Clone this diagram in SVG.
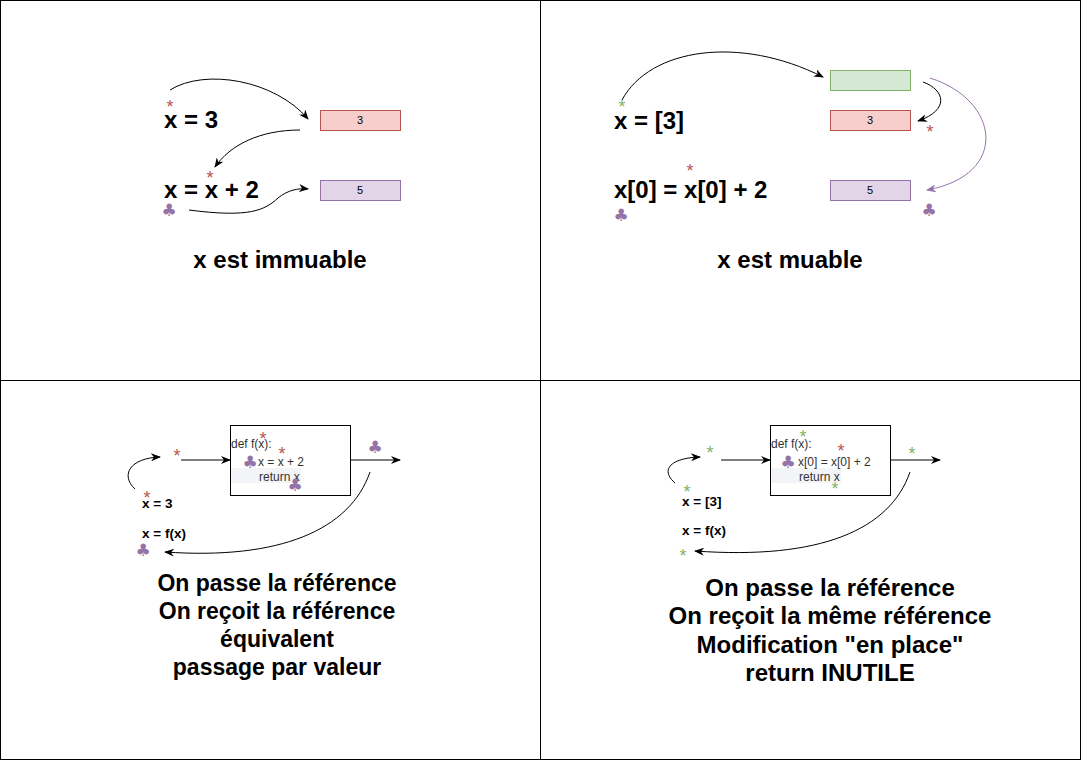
<svg xmlns="http://www.w3.org/2000/svg" width="1082" height="762" viewBox="0 0 1082 762">
<defs>
<marker id="ah" viewBox="0 0 10 8" refX="9" refY="4" markerWidth="10" markerHeight="8" markerUnits="userSpaceOnUse" orient="auto"><path d="M0,0 L10,4 L0,8 L3,4 Z" fill="#000"/></marker>
<marker id="ahp" viewBox="0 0 10 8" refX="9" refY="4" markerWidth="10" markerHeight="8" markerUnits="userSpaceOnUse" orient="auto"><path d="M0,0 L10,4 L0,8 L3,4 Z" fill="#9673a6"/></marker>
<style>
.big{font-family:"Liberation Sans",Arial,sans-serif;font-weight:bold;font-size:24px;fill:#000}
.cap{font-family:"Liberation Sans",Arial,sans-serif;font-weight:bold;font-size:23px;fill:#000;text-anchor:middle}
.cap2{font-family:"Liberation Sans",Arial,sans-serif;font-weight:bold;font-size:24px;fill:#000;text-anchor:middle}
.sm{font-family:"Liberation Sans",Arial,sans-serif;font-weight:bold;font-size:13.5px;fill:#000}
.code{font-family:"Liberation Sans",Arial,sans-serif;font-size:12px;fill:#333}
.val{font-family:"Liberation Sans",Arial,sans-serif;font-size:11px;fill:#000;text-anchor:middle}
.ast{font-family:"Liberation Sans",Arial,sans-serif;font-size:18px;text-anchor:middle}
.r{fill:#b85450}
.g{fill:#82b366}
.club{font-family:"DejaVu Sans",sans-serif;font-size:17px;fill:#9673a6;text-anchor:middle}
.red{fill:#f8cecc;stroke:#b85450}
.pur{fill:#e1d5e7;stroke:#9673a6}
.grn{fill:#d5e8d4;stroke:#82b366}
.box{fill:#fff;stroke:#000}
.hl{fill:#f3f4f7}
.c{fill:none;stroke:#000;stroke-width:1}
.cp{fill:none;stroke:#9673a6;stroke-width:1}
</style>
</defs>
<rect x="0" y="0" width="1082" height="762" fill="#fff"/>
<g id="frame" fill="none" stroke="#000" stroke-width="1">
<rect x="0.5" y="0.5" width="1080" height="759"/>
<line x1="540.5" y1="0" x2="540.5" y2="760"/>
<line x1="0" y1="380.5" x2="1081" y2="380.5"/>
</g>

<g id="connectors">
<path class="c" d="M170,90 C205,68 275,80 308,119" marker-end="url(#ah)"/>
<path class="c" d="M300,130 C260,130 230,145 215,167" marker-end="url(#ah)"/>
<path class="c" d="M189,210 C250,218 265,210 278,198 C288,190 298,188 308,189" marker-end="url(#ah)"/>
<path class="c" d="M622,100 C650,48 740,35 823,77" marker-end="url(#ah)"/>
<path class="c" d="M923,82 C945,90 950,110 918,121" marker-end="url(#ah)"/>
<path class="cp" d="M930,78 C1000,100 1010,175 927,190" marker-end="url(#ahp)"/>
<path class="c" d="M135,489 C120,475 130,458 160,457" marker-end="url(#ah)"/>
<path class="c" d="M181,460 L230,460" marker-end="url(#ah)"/>
<path class="c" d="M351,460 L400,460" marker-end="url(#ah)"/>
<path class="c" d="M370,472 C350,530 280,560 165,552" marker-end="url(#ah)"/>
<path class="c" d="M675,483 C660,470 670,458 700,457" marker-end="url(#ah)"/>
<path class="c" d="M721,460 L770,460" marker-end="url(#ah)"/>
<path class="c" d="M891,460 L940,460" marker-end="url(#ah)"/>
<path class="c" d="M910,472 C890,530 820,560 695,551" marker-end="url(#ah)"/>
</g>

<g id="q1">
<g id="q1-x3"><text class="big" x="164" y="128">x = 3</text><text class="ast r" x="170" y="113">*</text></g>
<g id="q1-val3"><rect class="red" x="320.5" y="110.5" width="80" height="20"/><text class="val" x="360" y="124">3</text></g>
<g id="q1-x2"><text class="big" x="164" y="198">x = x + 2</text><text class="ast r" x="210" y="184">*</text><text class="club" x="169" y="216">♣</text></g>
<g id="q1-val5"><rect class="pur" x="320.5" y="180.5" width="80" height="20"/><text class="val" x="360" y="194">5</text></g>
<g id="q1-caption"><text class="big" x="280" y="268" text-anchor="middle">x est immuable</text></g>
</g>

<g id="q2">
<g id="q2-x3"><text class="big" x="614" y="129">x = [3]</text><text class="ast g" x="622" y="113">*</text></g>
<g id="q2-list"><rect class="grn" x="830.5" y="70.5" width="80" height="20"/></g>
<g id="q2-val3"><rect class="red" x="830.5" y="110.5" width="80" height="20"/><text class="val" x="870" y="124">3</text><text class="ast r" x="930" y="138">*</text></g>
<g id="q2-val5"><rect class="pur" x="830.5" y="180.5" width="80" height="20"/><text class="val" x="870" y="194">5</text><text class="club" x="929" y="216">♣</text></g>
<g id="q2-x2"><text class="big" x="614" y="198">x[0] = x[0] + 2</text><text class="ast r" x="690" y="177">*</text><text class="club" x="621" y="221">♣</text></g>
<g id="q2-caption"><text class="big" x="790" y="268" text-anchor="middle">x est muable</text></g>
</g>

<g id="q3">
<g id="q3-func">
<rect class="box" x="230.5" y="425.5" width="120" height="70"/>
<rect class="hl" x="231" y="468" width="70" height="15"/>
<text class="code" x="231" y="448">def f(x):</text>
<text class="code" x="258" y="466">x = x + 2</text>
<text class="code" x="259" y="481">return x</text>
<text class="ast r" x="263" y="445">*</text>
<text class="ast r" x="282" y="460">*</text>
<text class="club" x="250" y="468">♣</text>
<text class="club" x="295" y="491">♣</text>
</g>
<g id="q3-arg"><text class="ast r" x="177" y="462">*</text></g>
<g id="q3-out"><text class="club" x="375" y="453">♣</text></g>
<g id="q3-x3"><text class="sm" x="142" y="508">x = 3</text><text class="ast r" x="147" y="504">*</text></g>
<g id="q3-xf"><text class="sm" x="142" y="538">x = f(x)</text><text class="club" x="143" y="556">♣</text></g>
<g id="q3-caption">
<text class="cap" x="277" y="591">On passe la référence</text>
<text class="cap" x="277" y="619">On reçoit la référence</text>
<text class="cap" x="277" y="647">équivalent</text>
<text class="cap" x="277" y="675">passage par valeur</text>
</g>
</g>

<g id="q4">
<g id="q4-func">
<rect class="box" x="770.5" y="425.5" width="120" height="70"/>
<rect class="hl" x="771" y="468" width="70" height="15"/>
<text class="code" x="771" y="448">def f(x):</text>
<text class="code" x="798" y="466">x[0] = x[0] + 2</text>
<text class="code" x="799" y="481">return x</text>
<text class="ast g" x="803" y="443">*</text>
<text class="ast r" x="841" y="457">*</text>
<text class="club" x="788" y="468">♣</text>
<text class="ast g" x="835" y="495">*</text>
</g>
<g id="q4-arg"><text class="ast g" x="710" y="459">*</text></g>
<g id="q4-out"><text class="ast g" x="912" y="460">*</text></g>
<g id="q4-x3"><text class="sm" x="682" y="506">x = [3]</text><text class="ast g" x="687" y="498">*</text></g>
<g id="q4-xf"><text class="sm" x="682" y="535">x = f(x)</text><text class="ast g" x="683" y="562">*</text></g>
<g id="q4-caption">
<text class="cap2" x="830" y="596">On passe la référence</text>
<text class="cap2" x="830" y="624">On reçoit la même référence</text>
<text class="cap2" x="830" y="653">Modification "en place"</text>
<text class="cap2" x="830" y="681">return INUTILE</text>
</g>
</g>
</svg>
